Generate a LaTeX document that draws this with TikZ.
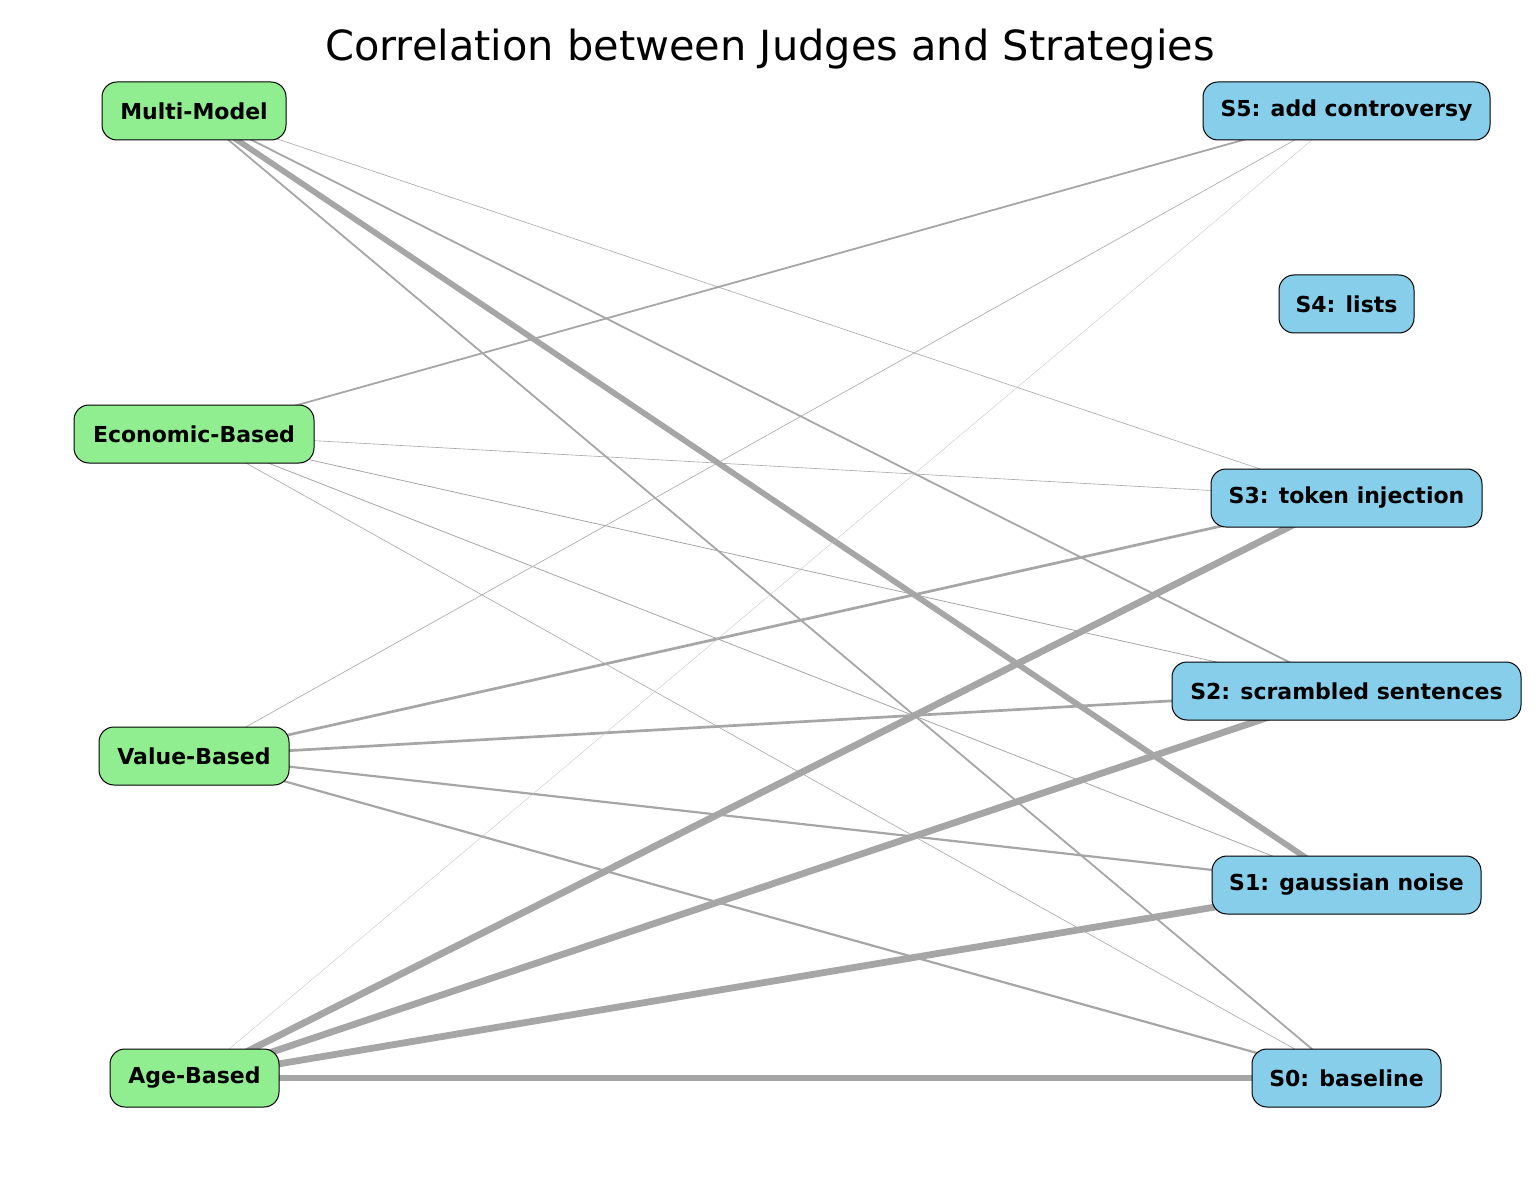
\documentclass[tikz,border=0pt]{standalone}
\usepackage{fontspec}
\setmainfont{DejaVu Sans}
\usetikzlibrary{backgrounds}
\definecolor{judge}{HTML}{90EE90}
\definecolor{strat}{HTML}{87CEEB}
\definecolor{edgegray}{HTML}{A6A6A6}
\tikzset{
  box/.style={draw=black, line width=1pt, rounded corners=15pt, minimum height=58pt, inner sep=0pt,
    font=\fontsize{22}{26}\selectfont\bfseries},
  judgebox/.style={box, fill=judge},
  stratbox/.style={box, fill=strat},
  conn/.style={draw=edgegray},
  wthick/.style={conn, line width=6.8pt},
  wmthick/.style={conn, line width=5.8pt},
  wmed/.style={conn, line width=2.7pt},
  wmedl/.style={conn, line width=2.2pt},
  wmeds/.style={conn, line width=1.8pt},
  wthin/.style={conn, line width=0.8pt},
  wthinner/.style={conn, line width=0.6pt},
  wfine/.style={conn, line width=0.35pt, draw=edgegray!70},
}
\begin{document}
\begin{tikzpicture}[x=1pt,y=-1pt]
\useasboundingbox (0,0) rectangle (1540,1190);
\node[font=\fontsize{41.5}{48}\selectfont, anchor=base] (title) at (770,61) {Correlation between Judges and Strategies};
% judges
\node[judgebox, minimum width=184pt] (mm) at (194,111) {Multi-Model};
\node[judgebox, minimum width=240pt] (eb) at (194,434) {Economic-Based};
\node[judgebox, minimum width=190pt] (vb) at (194,756) {Value-Based};
\node[judgebox, minimum width=169pt] (ab) at (194.5,1078) {Age-Based};
% strategies
\node[stratbox, minimum width=287pt] (s5) at (1346.5,111) {S5: add controversy};
\node[stratbox, minimum width=135pt] (s4) at (1346.5,304) {S4: lists};
\node[stratbox, minimum width=271pt] (s3) at (1346.5,498) {S3: token injection};
\node[stratbox, minimum width=349pt] (s2) at (1346.5,691) {S2: scrambled sentences};
\node[stratbox, minimum width=269pt] (s1) at (1346.5,885) {S1: gaussian noise};
\node[stratbox, minimum width=189pt] (s0) at (1346.5,1078) {S0: baseline};
\begin{pgfonlayer}{background}
% Multi-Model
\draw[wmthick] (mm.center) -- (s1.center);
\draw[wmeds] (mm.center) -- (s2.center);
\draw[wmeds] (mm.center) -- (s0.center);
\draw[wthinner] (mm.center) -- (s3.center);
% Economic-Based
\draw[wmeds] (eb.center) -- (s5.center);
\draw[wthinner] (eb.center) -- (s3.center);
\draw[wthin] (eb.center) -- (s2.center);
\draw[wthin] (eb.center) -- (s1.center);
\draw[wthinner] (eb.center) -- (s0.center);
% Value-Based
\draw[wthinner] (vb.center) -- (s5.center);
\draw[wmed] (vb.center) -- (s3.center);
\draw[wmed] (vb.center) -- (s2.center);
\draw[wmedl] (vb.center) -- (s1.center);
\draw[wmedl] (vb.center) -- (s0.center);
% Age-Based
\draw[wfine] (ab.center) -- (s5.center);
\draw[wthick] (ab.center) -- (s3.center);
\draw[wthick] (ab.center) -- (s2.center);
\draw[wthick] (ab.center) -- (s1.center);
\draw[wthick] (ab.center) -- (s0.center);
\end{pgfonlayer}
\end{tikzpicture}
\end{document}
